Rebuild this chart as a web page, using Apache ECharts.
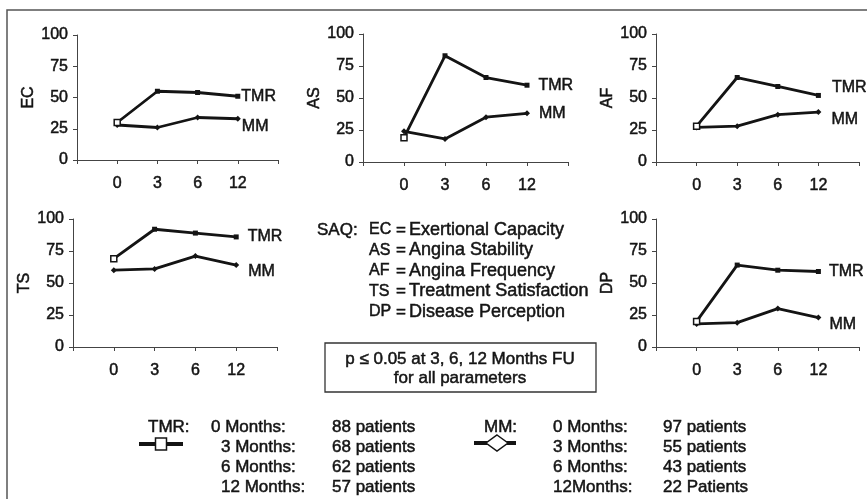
<!DOCTYPE html>
<html>
<head>
<meta charset="utf-8">
<script src="https://cdn.jsdelivr.net/npm/echarts@6/dist/echarts.min.js"></script>
<style>
  html, body { margin: 0; padding: 0; background: #fff; }
  #chart { width: 867px; height: 499px; }
</style>
</head>
<body>
<div id="chart"></div>
<script>
// ---------- data ----------
const xPositions = [1, 2, 3, 4];
const monthLabels = ['0', '3', '6', '12'];
const yTicks = [0, 25, 50, 75, 100];
const panelNames = ['EC', 'AS', 'AF', 'TS', 'DP'];

const tmrEC = [30, 55, 54, 51];
const mmEC  = [28, 26, 34, 33];
const tmrAS = [19, 83, 66, 60];
const mmAS  = [24, 18, 35, 38];
const tmrAF = [28, 66, 59, 52];
const mmAF  = [27, 28, 37, 39];
const tmrTS = [69, 92, 89, 86];
const mmTS  = [60, 61, 71, 64];
const tmrDP = [20, 64, 60, 59];
const mmDP  = [18, 19, 30, 23];

const saqAbbr = ['EC', 'AS', 'AF', 'TS', 'DP'];
const saqText = ['Exertional Capacity', 'Angina Stability', 'Angina Frequency', 'Treatment Satisfaction', 'Disease Perception'];

const tmrMonths = ['0 Months:', '3 Months:', '6 Months:', '12 Months:'];
const tmrCounts = ['88 patients', '68 patients', '62 patients', '57 patients'];
const mmMonths  = ['0 Months:', '3 Months:', '6 Months:', '12Months:'];
const mmCounts  = ['97 patients', '55 patients', '43 patients', '22 Patients'];

const seriesByPanel = {
  EC: [tmrEC, mmEC], AS: [tmrAS, mmAS], AF: [tmrAF, mmAF], TS: [tmrTS, mmTS], DP: [tmrDP, mmDP]
};

// ---------- layout ----------
const FONT = '"Liberation Sans", Arial, sans-serif';
const INK = '#141414';
const HEAVY = { textBorderColor: INK, textBorderWidth: 0.5 };
const layout = {
  EC: { left: 77,  top: 35,  width: 201, height: 125, lblDist: [1, 1],   lblOff: [0, 8] },
  AS: { left: 363, top: 34,  width: 205, height: 128, lblDist: [9, 9],   lblOff: [0, 0] },
  AF: { left: 656, top: 34,  width: 203, height: 128, lblDist: [11, 10], lblOff: [-8, 8] },
  TS: { left: 73,  top: 219, width: 204, height: 128, lblDist: [9, 9],   lblOff: [0, 7] },
  DP: { left: 656, top: 219, width: 203, height: 128, lblDist: [8, 8],   lblOff: [0, 7] }
};

const grids = [], xAxes = [], yAxes = [], series = [];
panelNames.forEach((name, gi) => {
  const L = layout[name];
  grids.push({ left: L.left, top: L.top, width: L.width, height: L.height, containLabel: false });
  xAxes.push({
    gridIndex: gi, type: 'value', min: 0, max: 5, interval: 1,
    axisLine: { show: true, lineStyle: { color: '#444', width: 1 } },
    axisTick: { show: true, inside: false, length: 4, lineStyle: { color: '#444' } },
    splitLine: { show: false },
    axisLabel: Object.assign({
      margin: 16, fontFamily: FONT, fontSize: 16, color: INK,
      formatter: v => { const i = xPositions.indexOf(v); return i >= 0 ? monthLabels[i] : ''; }
    }, HEAVY)
  });
  yAxes.push({
    gridIndex: gi, type: 'value', min: yTicks[0], max: yTicks[yTicks.length - 1], interval: 25,
    name: name, nameLocation: 'middle', nameGap: 40, nameRotate: 90,
    nameTextStyle: Object.assign({ fontFamily: FONT, fontSize: 16, color: INK }, HEAVY),
    axisLine: { show: true, lineStyle: { color: '#444', width: 1 } },
    axisTick: { show: true, inside: false, length: 4, lineStyle: { color: '#444' } },
    splitLine: { show: false },
    axisLabel: Object.assign({ margin: 9, fontFamily: FONT, fontSize: 16, color: INK }, HEAVY)
  });
  const [tmr, mm] = seriesByPanel[name];
  [['TMR', tmr, 0], ['MM', mm, 1]].forEach(([label, vals, k]) => {
    const data = xPositions.map((x, i) => {
      const item = { value: [x, vals[i]] };
      if (k === 0 && i === 0) {
        item.symbolSize = 6;
        item.itemStyle = { color: '#fff', borderColor: INK, borderWidth: 1.5 };
      }
      if (i === xPositions.length - 1) {
        item.label = Object.assign({
          show: true, formatter: label, position: 'right',
          distance: L.lblDist[k], offset: [0, L.lblOff[k]],
          fontFamily: FONT, fontSize: 16, color: INK
        }, HEAVY);
      }
      return item;
    });
    series.push({
      type: 'line', xAxisIndex: gi, yAxisIndex: gi, data: data,
      symbol: k === 0 ? 'rect' : 'diamond', symbolSize: k === 0 ? 5 : 6,
      itemStyle: { color: INK },
      lineStyle: { color: INK, width: 2.8 },
      label: { show: false },
      animation: false, z: 3 - k
    });
  });
});

// ---------- text / annotations ----------
const graphics = [];
graphics.push({ type: 'rect', shape: { x: 7, y: 10, width: 900, height: 520 },
  style: { fill: null, stroke: '#555', lineWidth: 1.5 }, silent: true });

const txt = (x, y, s, extra) => ({
  type: 'text', x: x, y: y,
  style: Object.assign({ text: s, fontFamily: FONT, fontSize: 17, fill: INK,
    stroke: INK, lineWidth: 0.5,
    textAlign: 'left', textVerticalAlign: 'middle' }, extra || {})
});

graphics.push(txt(317, 230, 'SAQ:'));
saqAbbr.forEach((a, i) => {
  const y = 230 + i * 20.5;
  graphics.push(txt(369, y, a, { fontSize: 16 }));
  graphics.push(txt(396, y, '='));
  graphics.push(txt(409, y, saqText[i], { fontSize: 18 }));
});

graphics.push({ type: 'rect', shape: { x: 325, y: 343, width: 271, height: 49 },
  style: { fill: null, stroke: '#333', lineWidth: 1.3 } });
graphics.push(txt(460, 359, 'p \u2264 0.05 at 3, 6, 12 Months FU', { textAlign: 'center' }));
graphics.push(txt(460, 378, 'for all parameters', { textAlign: 'center' }));

// legend TMR
graphics.push(txt(148, 427, 'TMR:'));
graphics.push({ type: 'line', shape: { x1: 139, y1: 444, x2: 183, y2: 444 }, style: { stroke: INK, lineWidth: 4 } });
graphics.push({ type: 'rect', shape: { x: 155.5, y: 438, width: 11, height: 12 }, style: { fill: '#fff', stroke: INK, lineWidth: 1.5 } });
const tmrMonthX = [211, 221, 221, 221];
tmrMonths.forEach((m, i) => {
  const y = 427 + i * 20;
  graphics.push(txt(tmrMonthX[i], y, m));
  graphics.push(txt(332, y, tmrCounts[i]));
});
// legend MM
graphics.push(txt(484, 427, 'MM:'));
graphics.push({ type: 'line', shape: { x1: 474, y1: 443, x2: 516, y2: 443 }, style: { stroke: INK, lineWidth: 4 } });
graphics.push({ type: 'polygon', shape: { points: [[497, 435], [508, 443], [497, 451], [486, 443]] }, style: { fill: '#fff', stroke: INK, lineWidth: 1.5 } });
mmMonths.forEach((m, i) => {
  const y = 427 + i * 20;
  graphics.push(txt(553, y, m));
  graphics.push(txt(663, y, mmCounts[i]));
});

const chart = echarts.init(document.getElementById('chart'), null, { renderer: 'canvas' });
chart.setOption({
  backgroundColor: '#fff',
  animation: false,
  grid: grids, xAxis: xAxes, yAxis: yAxes, series: series,
  graphic: graphics
});
</script>
</body>
</html>
